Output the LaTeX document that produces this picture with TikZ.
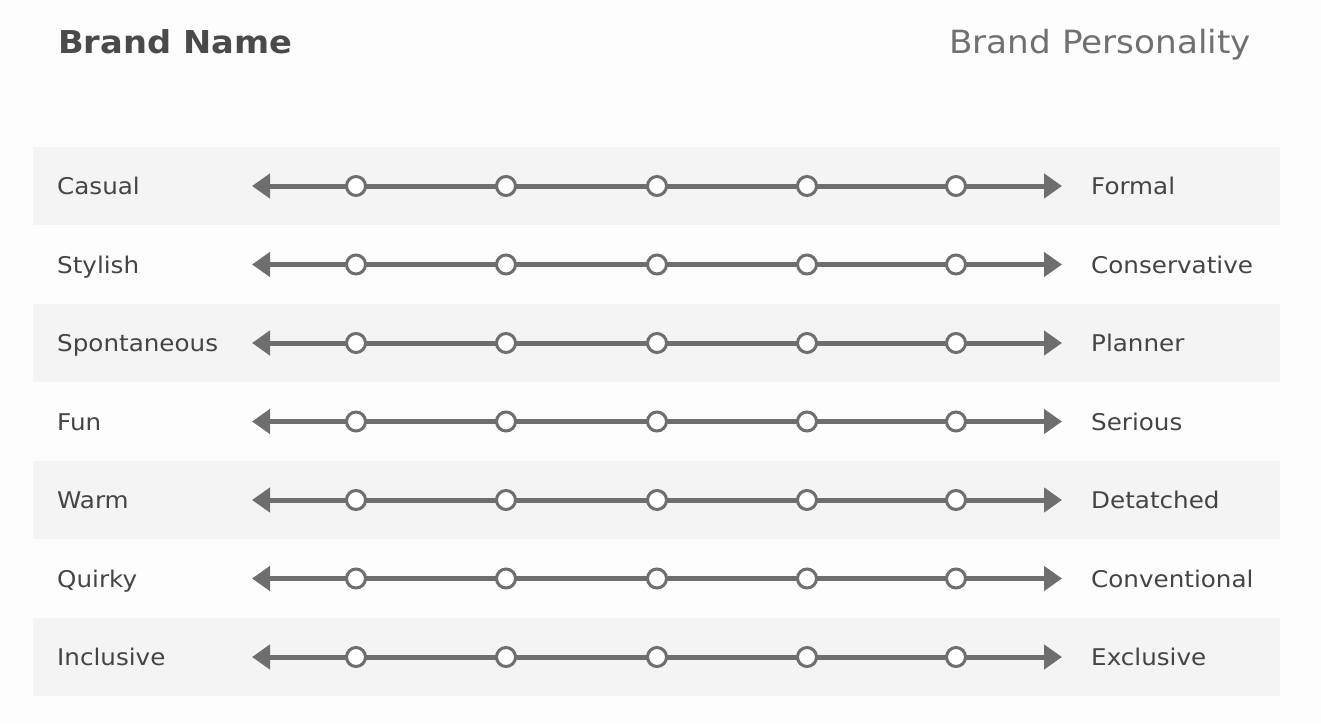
\documentclass[tikz,border=0pt]{standalone}
\usepackage{fontspec}
\setmainfont[FakeStretch=1.07]{DejaVu Sans}
\usetikzlibrary{arrows.meta}
\definecolor{bg}{HTML}{FDFDFD}
\definecolor{band}{HTML}{F4F4F4}
\definecolor{linegray}{HTML}{6E6E6E}
\definecolor{labelgray}{HTML}{444444}
\definecolor{titlegray}{HTML}{4A4A4A}
\definecolor{subgray}{HTML}{707070}
\tikzset{
  bandbox/.style={fill=band, draw=none},
  scaleline/.style={draw=linegray, line width=5pt, {Triangle[length=18pt,width=24pt]}-{Triangle[length=18pt,width=24pt]}},
  dot/.style={circle, fill=white, draw=linegray, line width=3pt, minimum size=19pt, inner sep=0pt},
  lefttext/.style={anchor=base west, text=labelgray, font=\fontsize{23}{27}\selectfont, inner sep=0pt},
  righttext/.style={anchor=base west, text=labelgray, font=\fontsize{23}{27}\selectfont, inner sep=0pt},
}
\begin{document}
\begin{tikzpicture}[x=1pt,y=-1pt]
\fill[bg] (0,0) rectangle (1321,725);
\useasboundingbox (0,0) rectangle (1321,725);
\node[anchor=base west, text=titlegray, font=\fontsize{31.5}{36}\selectfont\bfseries, inner sep=0pt] (title) at (58,54) {Brand Name};
\node[anchor=base east, text=subgray, font=\fontsize{32}{36}\selectfont, inner sep=0pt] (subtitle) at (1251,54) {Brand Personality};
\foreach \i/\l/\r in {1/Casual/Formal, 2/Stylish/Conservative, 3/Spontaneous/Planner, 4/Fun/Serious, 5/Warm/Detatched, 6/Quirky/Conventional, 7/Inclusive/Exclusive} {
  \pgfmathsetmacro{\yy}{186+78.5*(\i-1)}
  \ifodd\i
    \fill[bandbox] (33,\yy-39) rectangle (1280,\yy+39);
  \fi
  \node[lefttext] (left\i) at (57,\yy+8.5) {\l};
  \node[righttext] (right\i) at (1091,\yy+8.5) {\r};
  \coordinate (a\i) at (252,\yy);
  \coordinate (b\i) at (1062,\yy);
  \draw[scaleline] (a\i) -- (b\i);
  \foreach \k/\xx in {1/356,2/506,3/657,4/807,5/956} {
    \node[dot] (d\i-\k) at (\xx,\yy) {};
  }
}
\end{tikzpicture}
\end{document}
